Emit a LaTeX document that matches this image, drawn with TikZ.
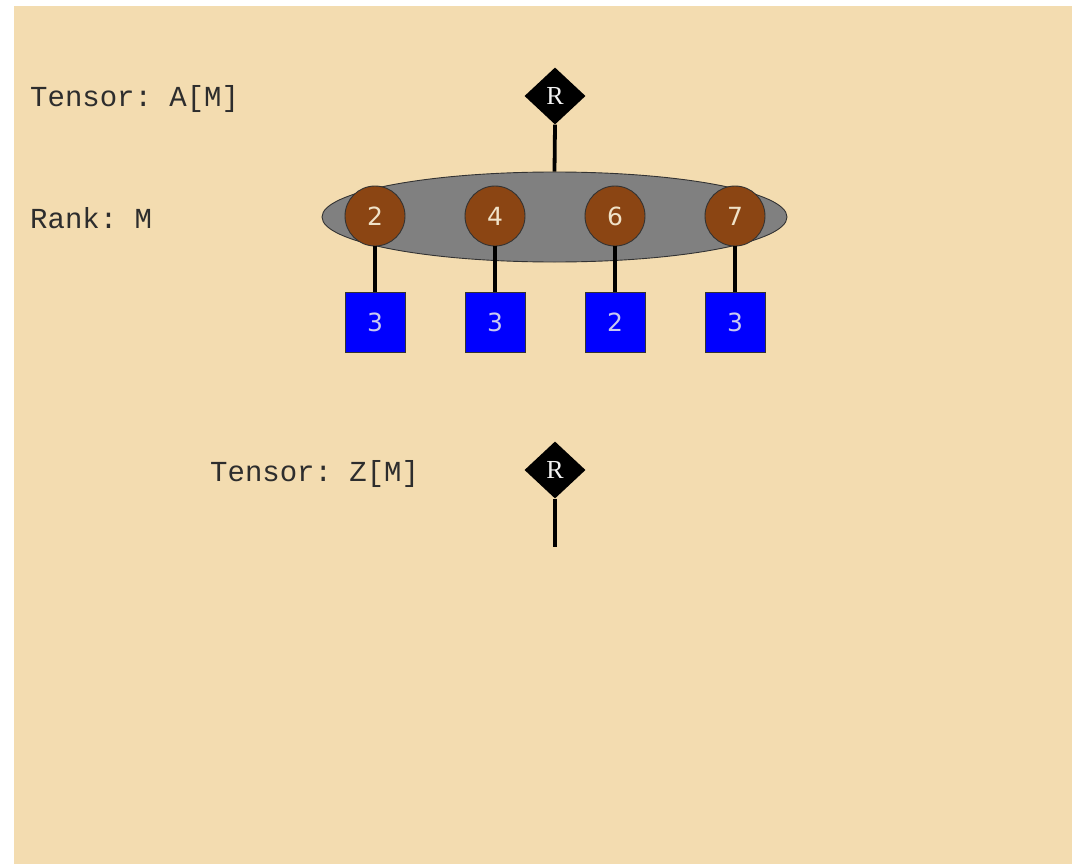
\documentclass[tikz,border=0pt]{standalone}
\usepackage{fontspec}
\setmonofont{Liberation Mono}
\newfontfamily\digitfont{DejaVu Sans}
\newfontfamily\rootfont{Liberation Serif}
\usepackage{xcolor}
\usepackage{tikz}
\usetikzlibrary{shapes.geometric}
\definecolor{fTan}{RGB}{243,220,176}
\definecolor{fBrown}{RGB}{139,69,19}
\definecolor{fGray}{RGB}{128,128,128}
\definecolor{fBlue}{RGB}{0,0,255}
\definecolor{tDark}{RGB}{45,45,45}
\definecolor{tLight}{RGB}{240,226,200}
\definecolor{tBlue}{RGB}{200,200,240}

\begin{document}
\begin{tikzpicture}[x=1pt,y=1pt,
  lbl/.style={anchor=west,inner sep=0pt,text=tDark,font=\fontsize{29}{29}\ttfamily},
  rt/.style={diamond,fill=black,inner sep=0pt,minimum width=61pt,minimum height=57pt,text=white!90!gray,font=\fontsize{26}{26}\rootfont},
  crd/.style={circle,draw=black!80,fill=fBrown,line width=0.9pt,minimum size=60pt,inner sep=0pt,text=tLight,font=\fontsize{25}{25}\digitfont},
  pay/.style={rectangle,draw=black!80,fill=fBlue,line width=0.9pt,minimum size=60pt,inner sep=0pt,text=tBlue,font=\fontsize{25}{25}\digitfont},
  ln/.style={line width=3.8pt}]
\def\C{555}
\useasboundingbox (0,0) rectangle (1073,-864);
\fill[white] (0,0) rectangle (1073,-864);
\fill[fTan] (14,-6) rectangle (1072,-864);
% tensor A
\node[lbl] (tA) at (30,-99) {Tensor: A[M]};
\node[lbl] (rM) at (30,-218) {Rank: M};
\node[rt] (rootA) at (\C,-96) {R};
\node[ellipse,draw=black!80,fill=fGray,line width=0.9pt,minimum width=465pt,minimum height=90pt,inner sep=0pt] (rank) at (554.5,-217) {};
\draw[ln] (rootA.south) -- (rank.north);
\foreach \n/\x/\c/\p in {c1/375/2/3,c2/495/4/3,c3/615/6/2,c4/735/7/3} {
  \node[crd] (\n) at (\x,-216) {\c};
  \node[pay] (p\n) at (\x,-322) {\p};
  \draw[ln] (\n.south) -- (p\n.north);
}
% tensor Z
\node[lbl] (tZ) at (210,-474) {Tensor: Z[M]};
\node[rt] (rootZ) at (\C,-470) {R};
\coordinate (zEnd) at (\C,-547);
\draw[ln] (rootZ.south) -- (zEnd);
\end{tikzpicture}
\end{document}
